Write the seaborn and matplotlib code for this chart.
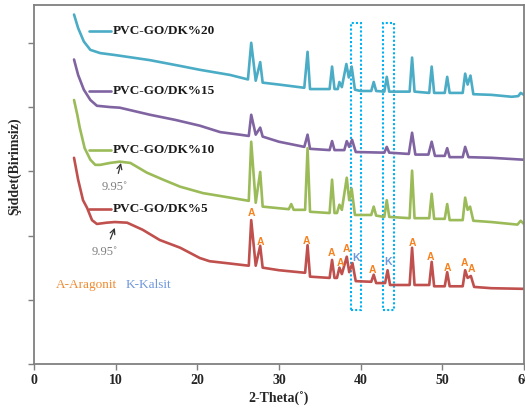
import matplotlib
matplotlib.use("Agg")
import matplotlib.pyplot as plt
import seaborn as sns
import pandas as pd
from matplotlib.patches import Rectangle

# ---------------- data (2-Theta in degrees, intensity in arbitrary units) ----------------
series_names = ["PVC-GO/DK%20", "PVC-GO/DK%15", "PVC-GO/DK%10", "PVC-GO/DK%5"]
series_colors = ["#4BACC6", "#8064A2", "#9BBB59", "#C0504D"]

theta_20 = [4.9, 5.4, 6.1, 6.9, 8.1, 9.9, 14.2, 17.9, 20.3, 24.0, 26.2, 26.6, 27.15, 27.7, 28.0,
            30.0, 33.1, 33.5, 33.8, 36.2, 36.5, 36.8, 37.2, 37.4, 37.7, 38.25, 38.55, 38.9, 39.3,
            40.0, 41.3, 41.6, 41.9, 42.9, 43.2, 43.5, 46.0, 46.3, 46.6, 48.4, 48.7, 49.0, 50.3,
            50.6, 50.9, 52.5, 52.8, 53.1, 53.45, 53.8, 56.0, 58.5, 59.3, 59.6, 60.0]
inten_20 = [544, 523, 502, 489, 484, 481, 473, 464, 458, 450, 443, 500, 441, 470, 438,
            435, 430, 486, 428, 428, 463, 428, 428, 439, 431, 467, 446, 463, 427,
            425, 425, 439, 425, 424, 447, 424, 424, 477, 424, 422, 463, 422, 422,
            447, 422, 422, 452, 435, 449, 420, 419, 416, 417, 422, 419]

theta_15 = [4.9, 5.4, 6.1, 6.9, 7.7, 9.3, 10.5, 14.2, 17.3, 20.3, 22.8, 25.2, 26.3, 26.6, 27.15,
            27.7, 28.0, 30.0, 33.1, 33.5, 33.8, 36.2, 36.5, 36.8, 38.0, 38.3, 38.6, 38.95, 39.4,
            42.9, 43.2, 43.5, 45.9, 46.3, 46.7, 48.3, 48.7, 49.1, 50.3, 50.6, 50.9, 52.5, 52.8,
            53.2, 56.0, 60.0]
inten_15 = [474, 450, 427, 411, 402, 400, 399, 388, 380, 371, 361, 357, 355, 388, 357,
            368, 354, 346, 338, 357, 335, 333, 347, 333, 333, 347, 338, 349, 330,
            329, 338, 329, 327, 360, 326, 326, 346, 324, 324, 336, 322, 322, 338,
            322, 321, 318]

theta_10 = [4.9, 5.3, 5.6, 6.2, 6.9, 7.5, 8.1, 9.3, 10.5, 11.8, 13.8, 15.8, 17.9, 20.7, 24.0,
            26.3, 26.6, 27.15, 27.7, 28.0, 31.2, 31.5, 31.8, 33.2, 33.5, 33.8, 36.2, 36.5, 36.8,
            37.1, 37.4, 37.7, 38.3, 38.6, 38.9, 39.3, 41.3, 41.6, 41.9, 42.9, 43.2, 43.5, 46.0,
            46.3, 46.6, 48.4, 48.7, 49.0, 50.3, 50.6, 50.9, 52.5, 52.8, 53.1, 53.4, 53.8, 56.0,
            59.2, 59.6, 60.0]
inten_10 = [411, 388, 368, 336, 318, 310, 310, 313, 315, 313, 298, 287, 276, 266, 259,
            254, 346, 251, 299, 245, 241, 249, 240, 240, 336, 237, 235, 287, 235,
            235, 248, 240, 290, 255, 273, 232, 232, 245, 231, 229, 255, 229, 227,
            301, 227, 227, 265, 226, 226, 249, 224, 224, 259, 240, 245, 223, 221,
            217, 223, 218]

theta_5 = [4.9, 5.4, 6.0, 6.5, 7.1, 7.7, 8.9, 9.9, 11.4, 13.3, 15.4, 17.9, 20.3, 21.5, 23.6,
           26.3, 26.6, 27.15, 27.7, 28.0, 30.0, 33.2, 33.5, 33.8, 36.2, 36.5, 36.8, 37.1, 37.4,
           37.7, 38.3, 38.6, 39.0, 39.4, 41.3, 41.6, 41.9, 43.0, 43.3, 43.6, 46.0, 46.3, 46.6,
           48.4, 48.7, 49.0, 50.3, 50.6, 50.9, 52.5, 52.8, 53.1, 53.5, 53.9, 56.0, 60.0]
inten_5 = [321, 287, 255, 243, 224, 218, 220, 221, 220, 209, 193, 181, 165, 160, 157,
           153, 224, 153, 184, 150, 146, 142, 185, 136, 134, 162, 134, 134, 150,
           140, 167, 143, 157, 129, 128, 139, 126, 126, 146, 123, 123, 181, 123,
           123, 159, 121, 121, 143, 121, 121, 146, 134, 137, 120, 118, 117]

# inline legend positions (label y) for each series
legend_y = [519, 425, 333, 241]

# phase markers on the DK%5 pattern
phase_labels = ["A", "A", "A", "A", "A", "A", "K", "A", "K", "A", "A", "A", "A", "A"]
phase_x = [26.6, 27.7, 33.4, 36.4, 37.5, 38.3, 39.4, 41.5, 43.3, 46.3, 48.6, 50.6, 52.7, 53.6]
phase_y = [235, 190, 192, 173, 157, 179, 165, 146, 159, 188, 167, 150, 157, 148]

# dotted boxes around calcite reflections (x ranges)
box_x0 = [38.8, 42.7]
box_x1 = [40.0, 44.1]
box_y0, box_y1 = 84, 531

# ---------------- plotting ----------------
sns.set_theme(style="white")
plt.rcParams["font.family"] = ["Liberation Serif", "DejaVu Serif"]

fig = plt.figure(figsize=(5.25, 4.09), dpi=100)
ax = fig.add_axes([0.0648, 0.110, 0.9332, 0.878])

frames = []
for name, tx, iy in [(series_names[0], theta_20, inten_20), (series_names[1], theta_15, inten_15),
                     (series_names[2], theta_10, inten_10), (series_names[3], theta_5, inten_5)]:
    frames.append(pd.DataFrame({"theta": tx, "intensity": iy, "sample": name}))
df = pd.concat(frames, ignore_index=True)

sns.lineplot(data=df, x="theta", y="intensity", hue="sample", hue_order=series_names,
             palette=series_colors, sort=False, estimator=None, units="sample",
             linewidth=1.9, legend=False, ax=ax)

# inline legend entries
for name, col, ly in zip(series_names, series_colors, legend_y):
    ax.plot([6.7, 9.4], [ly, ly], color=col, linewidth=1.9)
    ax.text(9.6, ly, name, fontsize=9.5, fontweight="bold", color="#1a1a1a",
            va="center", ha="left")

# 9.95 annotations
ax.annotate("9.95˚", xy=(10.65, 313), xytext=(9.9, 276), fontsize=9, color="#7f7f7f",
            ha="center", va="center",
            arrowprops=dict(arrowstyle="->", color="#333333", lw=0.9, shrinkA=3, shrinkB=0))
ax.annotate("9.95˚", xy=(9.9, 212), xytext=(8.7, 174), fontsize=9, color="#7f7f7f",
            ha="center", va="center",
            arrowprops=dict(arrowstyle="->", color="#333333", lw=0.9, shrinkA=3, shrinkB=0))

# phase labels
for lab, px, py in zip(phase_labels, phase_x, phase_y):
    ax.text(px, py, lab, fontsize=7.5, fontweight="bold",
            color="#F58220" if lab == "A" else "#6F97DC",
            ha="center", va="center", family=["Liberation Sans", "DejaVu Sans"])

ax.text(6.4, 123, "A-Aragonit", fontsize=9.5, color="#F08A30", ha="center", va="center")
ax.text(14.0, 123, "K-Kalsit", fontsize=9.5, color="#6F97DC", ha="center", va="center")

# dotted boxes
for x0, x1 in zip(box_x0, box_x1):
    ax.add_patch(Rectangle((x0, box_y0), x1 - x0, box_y1 - box_y0, fill=False,
                           edgecolor="#00B0F0", linestyle=(0, (1, 1)), linewidth=1.5))

ax.set_xlim(0, 60)
ax.set_ylim(0, 559)
ax.set_xticks(range(0, 61, 10))
ax.set_yticks(range(0, 501, 100))
ax.set_yticklabels([])
ax.tick_params(axis="x", direction="out", length=4, width=1, color="#7f7f7f",
               labelsize=10, pad=3, bottom=True)
ax.tick_params(axis="y", direction="out", length=4, width=1, color="#7f7f7f", left=True)
for lbl in ax.get_xticklabels():
    lbl.set_fontweight("bold")

for sp in ax.spines.values():
    sp.set_color("#808080")
    sp.set_linewidth(1.3)
    sp.set_visible(True)

ax.set_xlabel("2-Theta(˚)", fontsize=10, fontweight="bold", labelpad=4)
ax.set_ylabel("Şiddet(Birimsiz)", fontsize=10, fontweight="bold")
ax.yaxis.set_label_coords(-0.026, 0.55)

fig.savefig("out.png", dpi=100)
